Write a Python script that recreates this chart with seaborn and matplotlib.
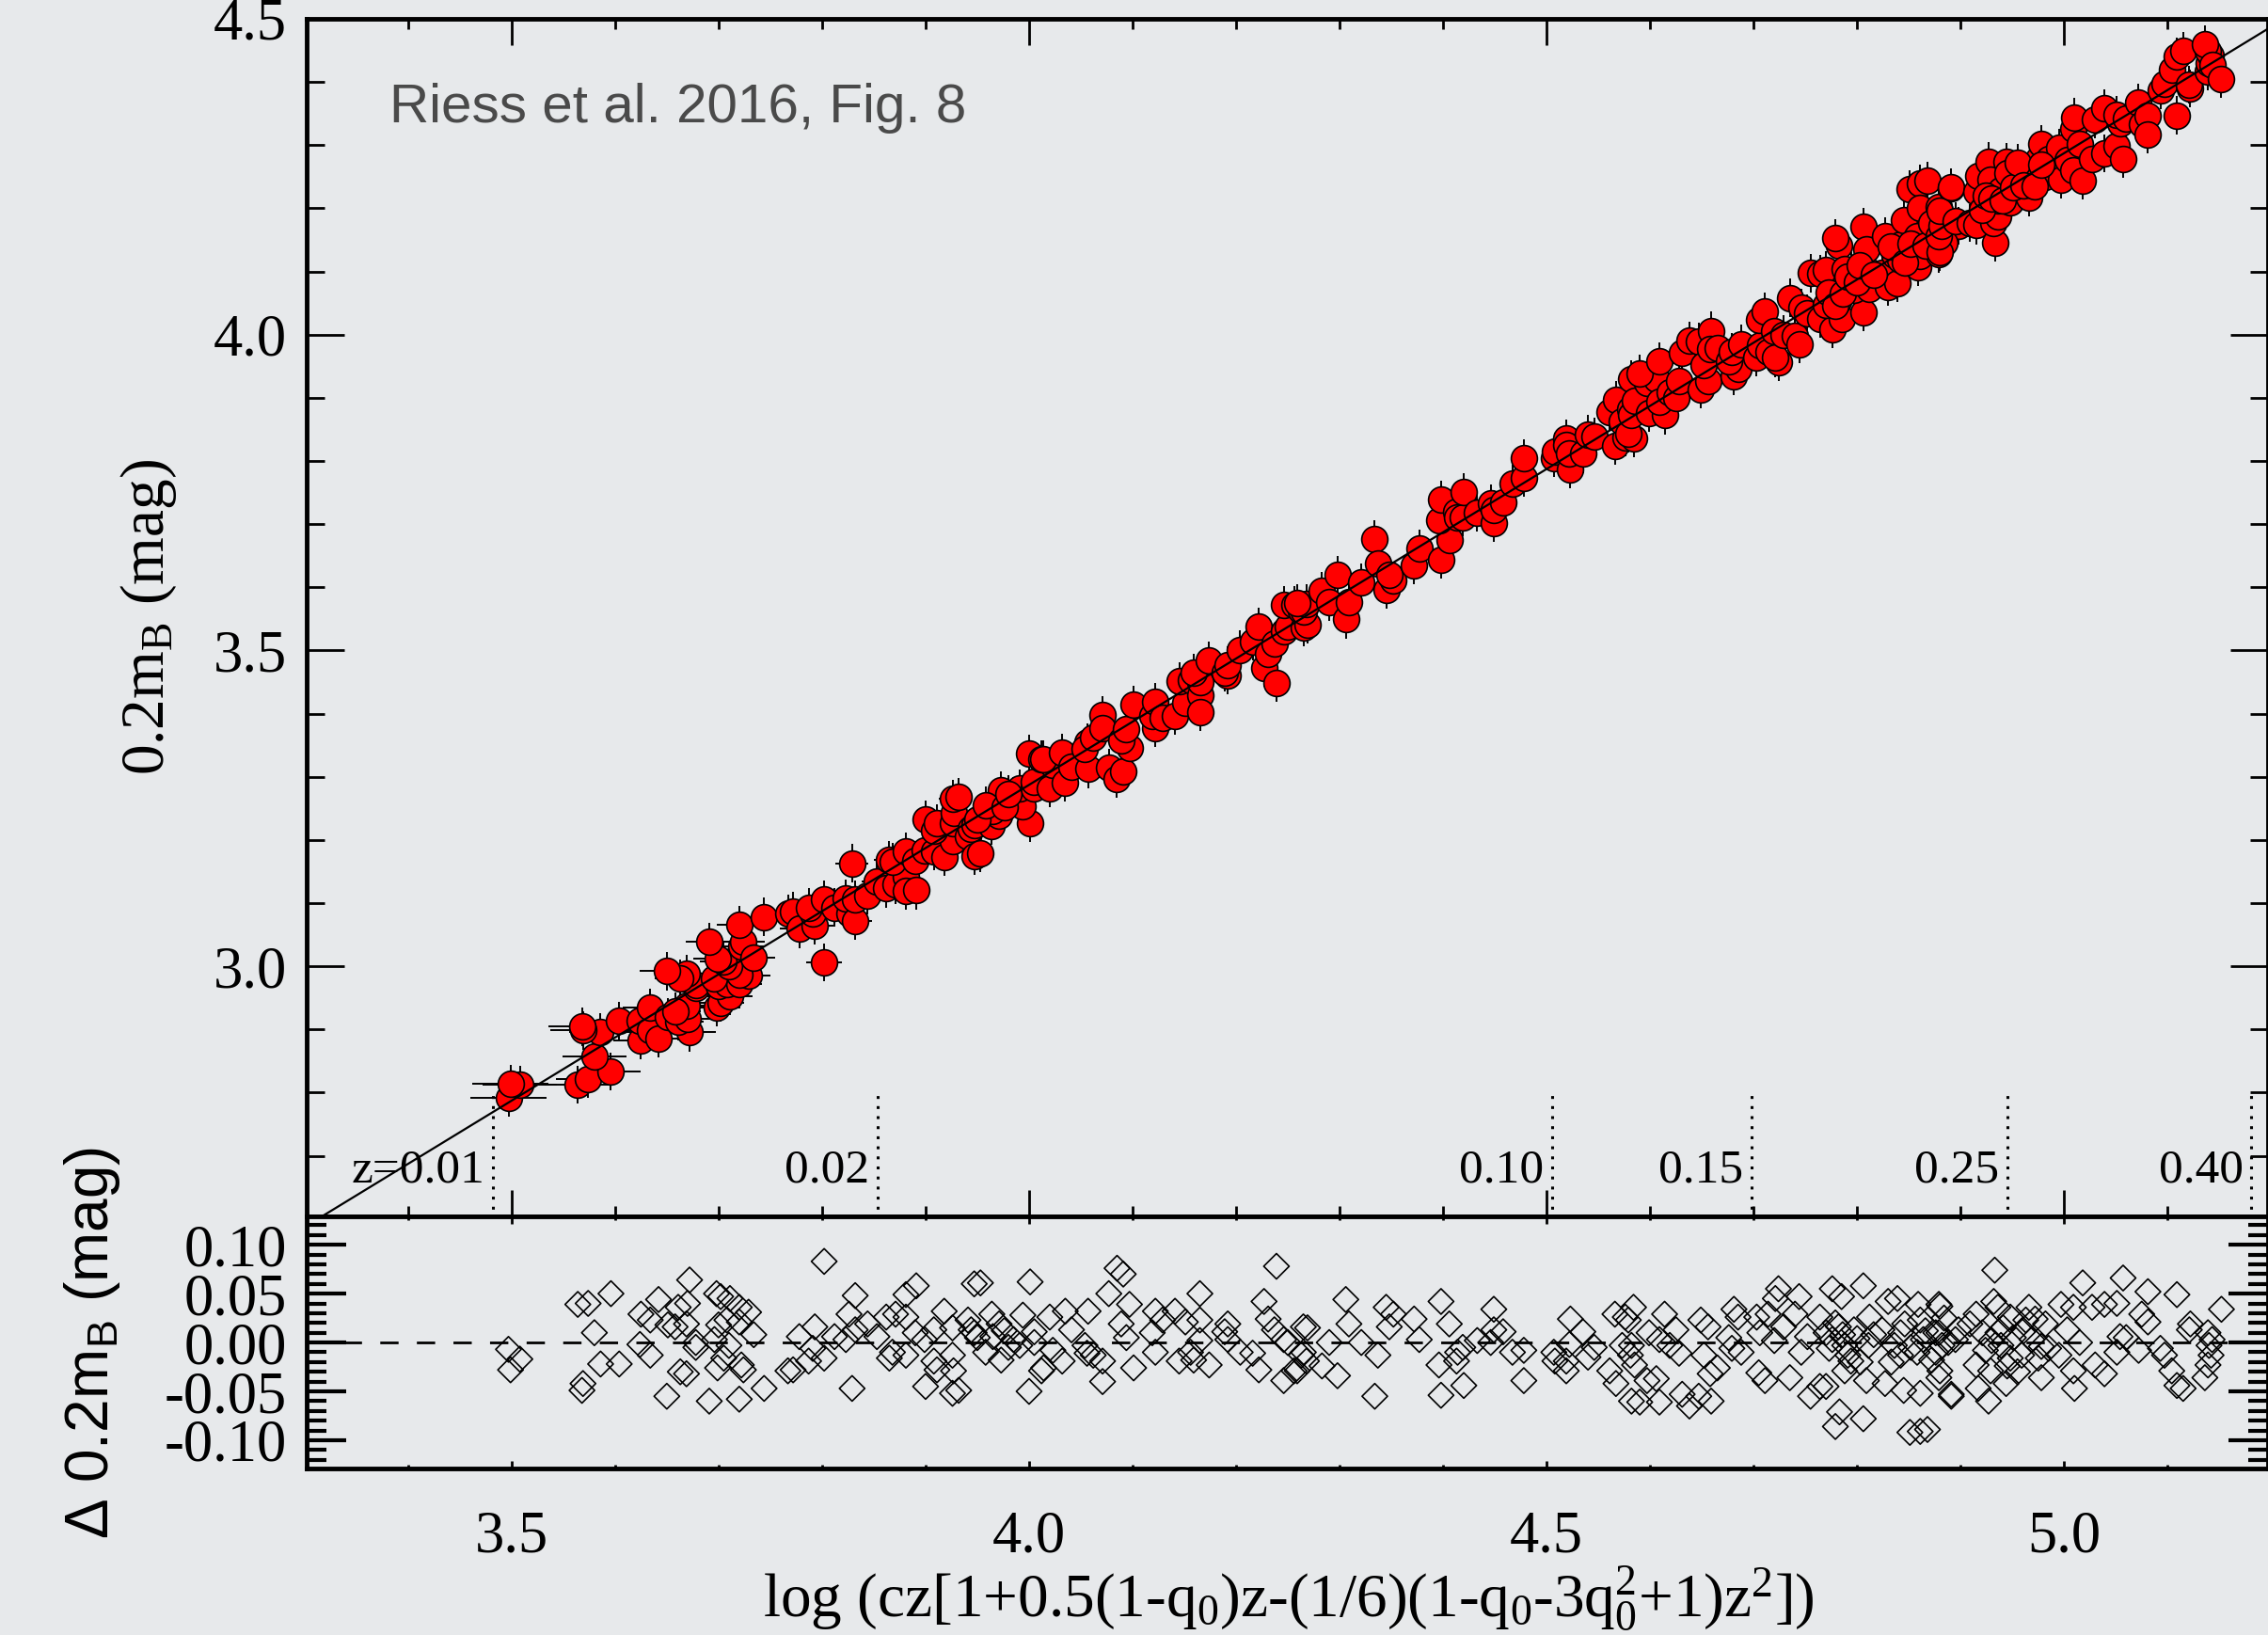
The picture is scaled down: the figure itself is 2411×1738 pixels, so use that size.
import numpy as np
import pandas as pd
import matplotlib
matplotlib.use("Agg")
import matplotlib.pyplot as plt
import seaborn as sns
from matplotlib.ticker import MultipleLocator, FormatStrFormatter

# Hubble diagram of SNe Ia (Riess et al. 2016, Fig. 8)
A_B = 0.71273          # intercept of the fitted line, 0.2 m_B = log(cz..) - a_B
YERR = 0.03            # typical vertical error on 0.2 m_B

# low-z supernovae (with horizontal errors from peculiar velocities)
logcz_low = [3.497, 3.508, 3.499, 3.564, 3.574, 3.596, 3.580, 3.586, 3.604, 3.569,
             3.568, 3.625, 3.624, 3.634, 3.634, 3.642, 3.672, 3.651, 3.661, 3.670,
             3.669, 3.658, 3.678, 3.678, 3.669, 3.663, 3.650, 3.698, 3.702, 3.711,
             3.700, 3.708, 3.720, 3.729, 3.720, 3.696, 3.710, 3.705, 3.699, 3.722,
             3.724, 3.691, 3.720, 3.734, 3.744, 3.767, 3.772, 3.778, 3.793, 3.791,
             3.787, 3.802, 3.802, 3.812, 3.826, 3.823, 3.832, 3.829, 3.832, 3.844,
             3.853, 3.862, 3.871, 3.881, 3.881, 3.891, 3.865, 3.868, 3.881, 3.890,
             3.899, 3.908, 3.918, 3.926, 3.900, 3.908, 3.911, 3.926, 3.927, 3.926,
             3.932, 3.941, 3.944, 3.947]
dmag_low = [-0.007, -0.017, -0.028, 0.039, 0.040, 0.050, 0.010, -0.022, -0.022, -0.042,
            -0.049, 0.029, -0.002, 0.023, -0.013, 0.044, 0.064, 0.018, 0.036, 0.040,
            0.019, 0.016, 0.000, -0.005, -0.032, -0.030, -0.055, 0.050, 0.047, 0.045,
            0.018, 0.023, 0.036, 0.031, 0.021, 0.003, -0.003, -0.016, -0.026, -0.023,
            -0.028, -0.060, -0.058, 0.008, -0.047, -0.029, -0.028, 0.006, 0.016, -0.006,
            -0.019, -0.016, 0.083, 0.006, 0.029, 0.003, 0.048, -0.047, 0.013, 0.019,
            0.006, 0.026, 0.029, 0.026, 0.049, 0.058, -0.016, -0.010, -0.013, 0.010,
            0.003, 0.013, 0.032, 0.015, -0.045, -0.019, -0.028, -0.013, -0.029, -0.052,
            -0.049, 0.023, 0.013, 0.060]
xerr_low = [0.037, 0.036, 0.037, 0.032, 0.031, 0.029, 0.031, 0.030, 0.029, 0.032,
            0.032, 0.027, 0.027, 0.027, 0.027, 0.026, 0.025, 0.026, 0.025, 0.025,
            0.025, 0.025, 0.024, 0.024, 0.025, 0.025, 0.026, 0.023, 0.023, 0.022,
            0.023, 0.022, 0.022, 0.021, 0.022, 0.023, 0.022, 0.023, 0.023, 0.022,
            0.021, 0.023, 0.022, 0.021, 0.020, 0.019, 0.019, 0.019, 0.018, 0.018,
            0.018, 0.017, 0.017, 0.017, 0.016, 0.016, 0.016, 0.016, 0.016, 0.015,
            0.015, 0.015, 0.014, 0.014, 0.014, 0.014, 0.015, 0.014, 0.014, 0.014,
            0.013, 0.013, 0.013, 0.013, 0.013, 0.013, 0.013, 0.013, 0.013, 0.013,
            0.012, 0.012, 0.012, 0.012]

# higher-z supernovae
logcz_high = [3.953, 4.001, 3.947, 3.964, 3.971, 3.965, 3.973, 3.985, 3.994, 3.991,
              4.005, 4.000, 4.005, 4.020, 4.023, 4.012, 4.014, 4.032, 4.035, 4.041,
              4.057, 4.056, 4.054, 4.062, 4.071, 4.071, 4.077, 4.085, 4.091, 4.097,
              4.089, 4.094, 4.101, 4.122, 4.119, 4.122, 4.129, 4.141, 4.151, 4.145,
              4.156, 4.165, 4.165, 4.165, 4.159, 4.174, 4.192, 4.189, 4.192, 4.204,
              4.216, 4.222, 4.227, 4.231, 4.239, 4.237, 4.246, 4.250, 4.246, 4.256,
              4.265, 4.263, 3.950, 3.958, 3.976, 3.980,
              4.269, 4.265, 4.268, 4.259, 4.283, 4.290, 4.298, 4.306, 4.309, 4.321,
              4.334, 4.337, 4.345, 4.352, 4.348, 4.372, 4.377, 4.398, 4.406, 4.396,
              4.398, 4.413, 4.414, 4.419, 4.420, 4.433, 4.446, 4.449, 4.449, 4.458,
              4.467, 4.478, 4.478, 4.507, 4.508, 4.519, 4.519, 4.523, 4.522, 4.535,
              4.540, 4.546, 4.561, 4.567, 4.566, 4.576, 4.573, 4.581, 4.582,
              4.584, 4.579, 4.582, 4.585, 4.599, 4.597, 4.606, 4.590, 4.609, 4.614,
              4.609, 4.619, 4.625, 4.628, 4.631, 4.638, 4.647, 4.659, 4.649, 4.656,
              4.652, 4.658, 4.665, 4.681, 4.685, 4.676, 4.679, 4.688, 4.703, 4.706,
              4.705, 4.711, 4.714, 4.720, 4.724, 4.721, 4.729, 4.735, 4.740, 4.744,
              4.746, 4.752, 4.755, 4.764, 4.770, 4.764, 4.776, 4.785, 4.783, 4.779,
              4.776, 4.782, 4.788, 4.794, 4.788, 4.806, 4.806, 4.797, 4.812, 4.811,
              4.809, 4.824, 4.827, 4.830, 4.839, 4.836, 4.842, 4.842, 4.845, 4.851,
              4.861, 4.868, 4.859, 4.861, 4.864, 4.858, 4.861, 4.879, 4.876, 4.876,
              4.879, 4.888, 4.891, 4.898,
              4.770, 4.773, 4.779, 4.786, 4.791, 4.800, 4.803, 4.816, 4.833, 4.846,
              4.852, 4.866, 4.872, 4.884,
              4.880, 4.879, 4.882, 4.880, 4.891, 4.895, 4.909, 4.915, 4.915, 4.917,
              4.927, 4.929, 4.933, 4.932, 4.936, 4.936, 4.939, 4.944, 4.948, 4.948,
              4.959, 4.963, 4.966, 4.969, 4.975, 4.978, 4.982, 4.985, 4.995, 4.997,
              5.003, 5.009, 5.010, 5.009, 5.018, 5.015, 5.027, 5.030, 5.039, 5.039,
              5.051, 5.057, 5.054, 5.051, 5.060, 5.072, 5.075, 5.081, 5.081, 5.093,
              5.097, 5.104, 5.109, 5.115, 5.109, 5.122, 5.121, 5.139, 5.140, 5.142,
              5.139, 5.136, 5.143, 5.152,
              4.921, 4.924, 4.930, 4.941, 4.945, 4.951, 4.955, 4.961, 4.972, 4.978]
dmag_high = [0.061, 0.062, 0.010, 0.029, 0.019, 0.006, -0.018, 0.003, 0.028, -0.003,
             0.011, -0.050, 0.000, 0.026, -0.008, -0.029, -0.026, -0.019, 0.032, 0.013,
             0.032, -0.011, -0.003, -0.013, -0.040, -0.019, 0.050, 0.076, 0.070, 0.039,
             0.019, 0.005, -0.026, 0.032, 0.010, -0.010, 0.023, 0.032, 0.021, -0.019,
             -0.010, 0.023, 0.050, 0.002, -0.018, -0.023, 0.019, 0.011, 0.003, -0.010,
             -0.011, -0.028, 0.042, 0.024, 0.078, 0.013, 0.003, 0.000, -0.039, -0.029,
             0.016, -0.013, 0.005, -0.010, 0.012, -0.005,
             0.015, -0.010, -0.019, -0.029, -0.024, 0.000, -0.034, 0.044, 0.019, 0.000,
             -0.055, -0.013, 0.036, 0.029, 0.016, 0.024, 0.003, 0.042, 0.019, -0.023,
             -0.054, -0.019, -0.010, -0.005, -0.044, 0.002, 0.000, 0.034, 0.013, 0.011,
             -0.010, -0.008, -0.039, -0.010, -0.019, -0.029, -0.019, 0.024, -0.002, 0.011,
             -0.015, -0.005, -0.029, -0.042, 0.029, 0.026, -0.003, -0.013, -0.060,
             0.036, 0.023, -0.003, -0.023, 0.010, -0.039, -0.037, -0.061, -0.061, 0.029,
             0.003, -0.003, 0.013, -0.011, -0.053, -0.065, -0.055, -0.060, 0.023, 0.016,
             -0.013, -0.032, -0.026, 0.034, 0.026, 0.005, -0.006, -0.010, 0.026, 0.010,
             -0.031, -0.039, 0.029, 0.002, 0.055, 0.045, 0.016, -0.036, 0.029, 0.047,
             -0.010, 0.006, -0.055, -0.045, -0.045, 0.026, 0.055, 0.047, -0.071, -0.086,
             0.003, 0.016, -0.003, -0.019, -0.029, 0.058, -0.078, 0.013, 0.026, -0.003,
             -0.039, 0.013, -0.042, 0.042, 0.045, -0.003, 0.010, -0.013, -0.049, -0.092,
             -0.091, -0.089, 0.039, 0.023, 0.003, -0.010, -0.052, 0.039, 0.010, -0.010,
             -0.036, 0.000, -0.053, 0.013,
             0.010, -0.006, 0.020, 0.008, -0.013, 0.004, -0.020, 0.008, -0.020, 0.019,
             -0.005, 0.012, -0.018, 0.025,
             0.037, 0.010, -0.003, -0.029, -0.055, 0.003, 0.019, 0.029, -0.023, -0.047,
             -0.060, -0.029, 0.074, 0.042, 0.036, 0.010, -0.003, -0.042, 0.026, -0.016,
             -0.013, 0.023, 0.036, 0.003, -0.016, -0.036, 0.019, -0.006, -0.013, 0.039,
             0.013, -0.029, -0.047, 0.036, 0.061, 0.000, 0.036, -0.023, -0.032, 0.039,
             0.040, 0.066, 0.006, -0.010, 0.005, -0.008, 0.029, 0.021, 0.052, -0.006,
             -0.013, -0.029, -0.044, -0.047, 0.049, 0.019, 0.013, 0.010, -0.003, -0.013,
             -0.023, -0.036, 0.003, 0.034,
             0.010, -0.008, 0.002, 0.015, -0.024, 0.005, -0.030, 0.012, 0.024, -0.004]

# redshift markers along the bottom of the Hubble diagram
Z_LABELS = ["z=0.01", "0.02", "0.10", "0.15", "0.25", "0.40"]
Z_LOGCZ = [3.482, 3.854, 4.505, 4.698, 4.945, 5.181]

BG = "#e7e9eb"

df = pd.DataFrame({
    "logcz": logcz_low + logcz_high,
    "dmag": dmag_low + dmag_high,
    "xerr": xerr_low + [0.0] * len(logcz_high),
})
# residual is (fit - data), so the magnitude is the line minus the residual
df["mag"] = df["logcz"] - A_B - df["dmag"]

sns.set_theme(style="ticks")
plt.rcParams["font.family"] = ["Liberation Serif", "DejaVu Serif"]
plt.rcParams["mathtext.fontset"] = "custom"
plt.rcParams["mathtext.default"] = "regular"
plt.rcParams["axes.unicode_minus"] = False
plt.rcParams["text.color"] = "black"
plt.rcParams["xtick.labelcolor"] = "black"
plt.rcParams["ytick.labelcolor"] = "black"

fig = plt.figure(figsize=(24.11, 17.38), dpi=100, facecolor=BG)
ax = fig.add_axes([0.1352, 0.256, 0.8648, 0.7325], facecolor=BG)
axr = fig.add_axes([0.1352, 0.1018, 0.8648, 0.1542], facecolor=BG, sharex=ax)

# --- main panel
ax.errorbar(df["logcz"], df["mag"], yerr=YERR, xerr=df["xerr"], fmt="none",
            ecolor="black", elinewidth=1.4, capsize=0, zorder=2)
sns.scatterplot(data=df, x="logcz", y="mag", ax=ax, color="#ff0000",
                edgecolor="black", linewidth=1.2, s=400, zorder=3, legend=False)
xl = np.array([3.30, 5.20])
ax.plot(xl, xl - A_B, color="black", lw=1.6, zorder=4)

ax.vlines(Z_LOGCZ, 2.6, 2.804, colors="black", linestyles=(0, (1, 2.5)), lw=2.2)
for lab, xz in zip(Z_LABELS, Z_LOGCZ):
    ax.text(xz - 0.008, 2.676, lab, ha="right", va="center", fontsize=37)

ax.text(0.042, 0.925, "Riess et al. 2016, Fig. 8", transform=ax.transAxes,
        fontsize=42, family=["Liberation Sans"], color="#4a4a4a", va="center")

ax.set_xlim(3.302, 5.197)
ax.set_ylim(2.604, 4.5)
ax.xaxis.set_major_locator(MultipleLocator(0.5))
ax.xaxis.set_minor_locator(MultipleLocator(0.1))
ax.yaxis.set_major_locator(MultipleLocator(0.5))
ax.yaxis.set_minor_locator(MultipleLocator(0.1))
ax.yaxis.set_major_formatter(FormatStrFormatter("%.1f"))
ax.tick_params(axis="both", which="both", direction="in", top=True, right=True,
               labelbottom=False, color="black")
ax.tick_params(axis="x", which="major", length=20, width=2)
ax.tick_params(axis="x", which="minor", length=8, width=2)
ax.tick_params(axis="y", which="major", length=29, width=2, labelsize=45, pad=15)
ax.tick_params(axis="y", which="minor", length=14, width=2)
ax.set_xlabel("")
ax.set_ylabel("")

# --- residual panel
axr.axhline(0, color="black", lw=2, dashes=(7, 7), zorder=1)
sns.scatterplot(data=df, x="logcz", y="dmag", ax=axr, marker="D", s=190,
                facecolor="none", edgecolor="black", linewidth=1.2, zorder=2,
                legend=False)
axr.set_ylim(-0.129, 0.129)
axr.yaxis.set_major_locator(MultipleLocator(0.05))
axr.yaxis.set_minor_locator(MultipleLocator(0.01))
axr.yaxis.set_major_formatter(FormatStrFormatter("%.2f"))
axr.xaxis.set_major_formatter(FormatStrFormatter("%.1f"))
axr.tick_params(axis="both", which="both", direction="in", top=True, right=True,
                color="black")
axr.tick_params(axis="y", which="major", length=30, width=3, labelsize=45, pad=15)
axr.tick_params(axis="y", which="minor", length=15, width=3)
axr.tick_params(axis="x", which="major", length=6, width=2, labelsize=45, pad=32)
axr.tick_params(axis="x", which="minor", length=3, width=2)
axr.set_xlabel("")
axr.set_ylabel("")

for a in (ax, axr):
    for sp in a.spines.values():
        sp.set_linewidth(3.5)
        sp.set_color("black")

fig.text(0.0655, 0.6226, r"0.2m$_B$ (mag)", rotation=90, ha="center",
         va="center", fontsize=47)
fig.text(0.0406, 0.1789, r"$\Delta$ 0.2m$_B$ (mag)", rotation=90, ha="center",
         va="center", fontsize=46, family=["Liberation Sans"])
fig.text(0.568, 0.022,
         r"log (cz[1+0.5(1-q$_0$)z-(1/6)(1-q$_0$-3q$_0^2$+1)z$^2$])",
         ha="center", va="center", fontsize=47)

fig.savefig("out.png", dpi=100, facecolor=BG)
